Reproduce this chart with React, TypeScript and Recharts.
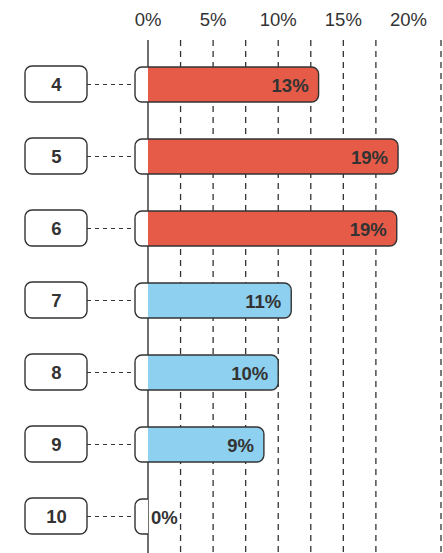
import { BarChart, Bar, XAxis, YAxis, CartesianGrid, LabelList } from "recharts";

const categories = ["4", "5", "6", "7", "8", "9", "10"];
const shares = [13.1, 19.2, 19.1, 11, 10, 8.9, 0];
const groups = ["high", "high", "high", "low", "low", "low", "low"];
const axisTicks = [0, 5, 10, 15, 20];
const gridTicks = [2.5, 5, 7.5, 10, 12.5, 15, 17.5, 20, 22.5];

const RED = "#E55B47";
const BLUE = "#8ED0F0";
const INK = "#333";
const FONT = "'Liberation Sans', Arial, sans-serif";

const data = categories.map((name, i) => ({ name, value: shares[i], group: groups[i] }));

// path for a rect with separate left/right corner radius
const roundRect = (x0: number, y: number, x1: number, h: number, rl: number, rr: number) =>
  `M${x0 + rl},${y} L${x1 - rr},${y} ` +
  (rr ? `A${rr},${rr} 0 0 1 ${x1},${y + rr} ` : "") +
  `L${x1},${y + h - rr} ` +
  (rr ? `A${rr},${rr} 0 0 1 ${x1 - rr},${y + h} ` : "") +
  `L${x0 + rl},${y + h} ` +
  (rl ? `A${rl},${rl} 0 0 1 ${x0},${y + h - rl} ` : "") +
  `L${x0},${y + rl} ` +
  (rl ? `A${rl},${rl} 0 0 1 ${x0 + rl},${y} ` : "") +
  "Z";

const BarShape = (props: any) => {
  const { x, y, width, height, payload } = props;
  const stub = 13;
  const r = 7;
  const w = Math.max(width || 0, 0);
  const left = x - stub;
  const right = x + w;
  const fill = payload.group === "high" ? RED : BLUE;
  const rr = w > r ? r : 0;
  return (
    <g>
      <path d={roundRect(left, y, right, height, r, rr)} fill="#fff" />
      {w > 0 && <path d={roundRect(x, y, right, height, 0, rr)} fill={fill} />}
      {w > 0 ? (
        <path d={roundRect(left, y, right, height, r, rr)} fill="none" stroke={INK} strokeWidth={1.4} />
      ) : (
        <path
          d={`M${x},${y} L${left + r},${y} A${r},${r} 0 0 0 ${left},${y + r} L${left},${y + height - r} A${r},${r} 0 0 0 ${left + r},${y + height} L${x},${y + height}`}
          fill="none"
          stroke={INK}
          strokeWidth={1.4}
        />
      )}
    </g>
  );
};

const ValueLabel = (props: any) => {
  const { x, y, width, height, value } = props;
  const zero = !value;
  return (
    <text
      x={zero ? x + 3 : x + width - 10}
      y={y + height / 2 + 7}
      textAnchor={zero ? "start" : "end"}
      fontFamily={FONT}
      fontWeight="bold"
      fontSize={18.5}
      fill={INK}
    >
      {Math.round(value)}%
    </text>
  );
};

const CategoryTick = (props: any) => {
  const { y, payload } = props;
  const ly = Math.round(y) + 0.5;
  return (
    <g>
      <rect x={25} y={y - 18} width={62} height={36} rx={7} fill="#fff" stroke={INK} strokeWidth={1.4} />
      <line x1={87} y1={ly} x2={135} y2={ly} stroke={INK} strokeWidth={1.2} strokeDasharray="4 4" />
      <text x={56.5} y={y + 7} textAnchor="middle" fontFamily={FONT} fontWeight="bold" fontSize={18.5} fill={INK}>
        {payload.value}
      </text>
    </g>
  );
};

const TopTick = (props: any) => {
  const { x, payload } = props;
  return (
    <text x={x} y={26} textAnchor="middle" fontFamily={FONT} fontSize={18.5} fill={INK}>
      {payload.value}%
    </text>
  );
};

export default function App() {
  return (
    <div style={{ position: "absolute", left: 0, top: 0 }}>
      <BarChart
        width={443}
        height={553}
        data={data}
        layout="vertical"
        margin={{ top: 0, right: 2, bottom: 0, left: 0 }}
      >
        <CartesianGrid
          horizontal={false}
          verticalValues={gridTicks}
          stroke={INK}
          strokeWidth={1.3}
          strokeDasharray="6 5"
        />
        <CartesianGrid horizontal={false} verticalValues={[0]} stroke={INK} strokeWidth={1.4} />
        <XAxis
          type="number"
          orientation="top"
          domain={[0, 22.5]}
          ticks={axisTicks}
          height={40}
          axisLine={false}
          tickLine={false}
          tick={<TopTick />}
        />
        <YAxis
          type="category"
          dataKey="name"
          width={148}
          axisLine={false}
          tickLine={false}
          padding={{ top: 8, bottom: 1 }}
          tick={<CategoryTick />}
          interval={0}
        />
        <Bar dataKey="value" barSize={35} shape={<BarShape />} isAnimationActive={false}>
          <LabelList dataKey="value" content={<ValueLabel />} />
        </Bar>
      </BarChart>
    </div>
  );
}
